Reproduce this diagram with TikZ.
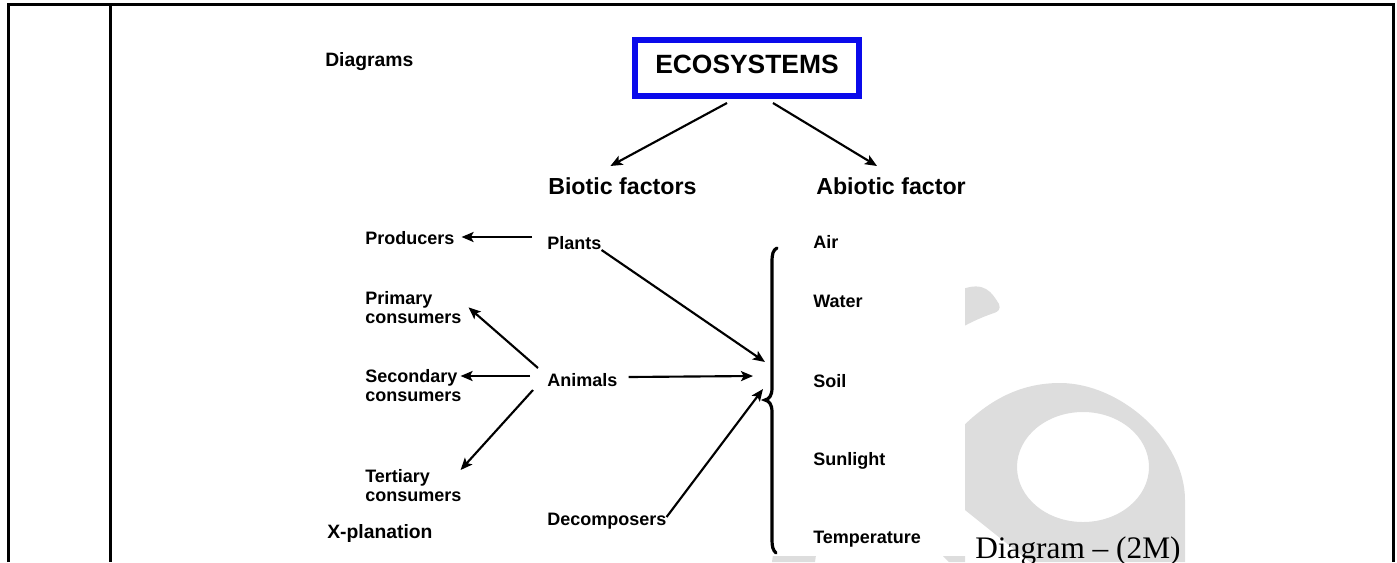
\documentclass[tikz,border=0pt]{standalone}
\usepackage{fontspec}
\setmainfont{Liberation Sans}
\newfontfamily\markfont{Liberation Serif}
\usetikzlibrary{arrows.meta}
\definecolor{ecoblue}{RGB}{10,10,235}
\definecolor{wmgray}{RGB}{221,221,221}
\tikzset{
  lbl/.style={anchor=base west, inner sep=0pt, font=\fontsize{13.5}{14.3}\selectfont\bfseries},
  twoline/.style={anchor=north west, inner sep=0pt, align=left, font=\fontsize{13.5}{14.3}\selectfont\bfseries},
  head/.style={anchor=base west, inner sep=0pt, font=\fontsize{17.4}{20}\selectfont\bfseries},
  bigl/.style={anchor=base west, inner sep=0pt, font=\fontsize{14.5}{16}\selectfont\bfseries},
  ecobox/.style={draw=ecoblue, line width=4.5pt, minimum width=168pt, minimum height=42pt, inner sep=0pt, text depth=6pt, font=\fontsize{19.8}{22}\selectfont\bfseries},
  arr/.style={-{Stealth[length=9pt,width=7.5pt,inset=2pt]}, line width=1.6pt},
  frame/.style={line width=2.25pt, line join=miter},
}

\begin{document}
\begin{tikzpicture}[x=0.75pt,y=-0.75pt]
\useasboundingbox (0,0) rectangle (1397,562);

%% watermark, partly hidden behind the picture
\fill[wmgray] (960,290) .. controls (985,280) and (992,293) .. (999,304) .. controls (1001,309) and (998,312) .. (994,313) .. controls (900,345) and (830,450) .. (815,562) -- (772,562) .. controls (790,420) and (870,320) .. (960,290) -- cycle;
\fill[wmgray, even odd rule] (1060,383) .. controls (1120,383) and (1185,440) .. (1185,500) -- (1185,562) -- (1030,562) -- (965,510) -- (950,440) .. controls (985,400) and (1020,383) .. (1060,383) -- cycle
  (1083,467) ellipse [x radius=66, y radius=55];
\fill[wmgray] (943,556) -- (965,556) -- (965,562) -- (949,562) -- cycle;
\fill[white] (112,7) rectangle (965,556);

%% table lines
\draw[frame] (8,562) -- (8,4.3) -- (1393.5,4.3) -- (1393.5,562);
\draw[frame] (110,4.3) -- (110,562);

%% labels
\node[bigl] (diagrams) at (325,66) {Diagrams};
\node[ecobox] (eco) at (747,68) {ECOSYSTEMS\hspace{9pt}};
\node[head] (biotic) at (548,194) {Biotic factors};
\node[head] (abiotic) at (816,194) {Abiotic factor};

\node[lbl] (producers) at (365,244) {Producers};
\node[lbl] (plants) at (547,249) {Plants};
\node[twoline] (primary) at (365,291) {Primary\\consumers};
\node[twoline] (secondary) at (365,369) {Secondary\\consumers};
\node[lbl] (animals) at (547,386) {Animals};
\node[twoline] (tertiary) at (365,469) {Tertiary\\consumers};
\node[bigl] (xplan) at (327,538) {X-planation};
\node[lbl] (decomp) at (547,525) {Decomposers};

\node[lbl] (air) at (813,248) {Air};
\node[lbl] (water) at (813,307) {Water};
\node[lbl] (soil) at (813,387) {Soil};
\node[lbl] (sun) at (813,465) {Sunlight};
\node[lbl] (temp) at (813,543) {Temperature};

\node[anchor=base west, inner sep=0pt, font=\markfont\fontsize{23.5}{26}\selectfont] (mark) at (975,558) {Diagram – (2M)};

%% brace
\draw[line width=2.4pt, line cap=round] (777,248) .. controls (773,250) and (772,254) .. (772,262) -- (772,388) .. controls (772,396) and (769,399) .. (765,400) .. controls (769,401) and (772,404) .. (772,412) -- (772,540) .. controls (772,547) and (773,550) .. (776,553);
\coordinate (bp) at (765,362);
\coordinate (ba) at (753,376);
\coordinate (bd) at (763,389);

%% arrows
\draw[arr] ([shift={(-20,4)}]eco.south) -- ([shift={(-12,-28)}]biotic.base);
\draw[arr] ([shift={(26,4)}]eco.south) -- ([shift={(-14,-28)}]abiotic.base);
\draw[arr] ([shift={(-15,-12)}]plants.base west) -- ([shift={(7,-7)}]producers.base east);
\draw[arr] ([shift={(0,1)}]plants.base east) -- (bp);
\draw[arr] ([shift={(-9,-18)}]animals.base west) -- ([shift={(7,0)}]primary.east);
\draw[arr] ([shift={(-17,-10)}]animals.base west) -- ([shift={(-1,7)}]secondary.north east);
\draw[arr] ([shift={(-14,4)}]animals.base west) -- ([shift={(-1,1)}]tertiary.north east);
\draw[arr] ([shift={(11,-9)}]animals.base east) -- (ba);
\draw[arr] ([shift={(0,-8)}]decomp.base east) -- (bd);

\end{tikzpicture}
\end{document}
